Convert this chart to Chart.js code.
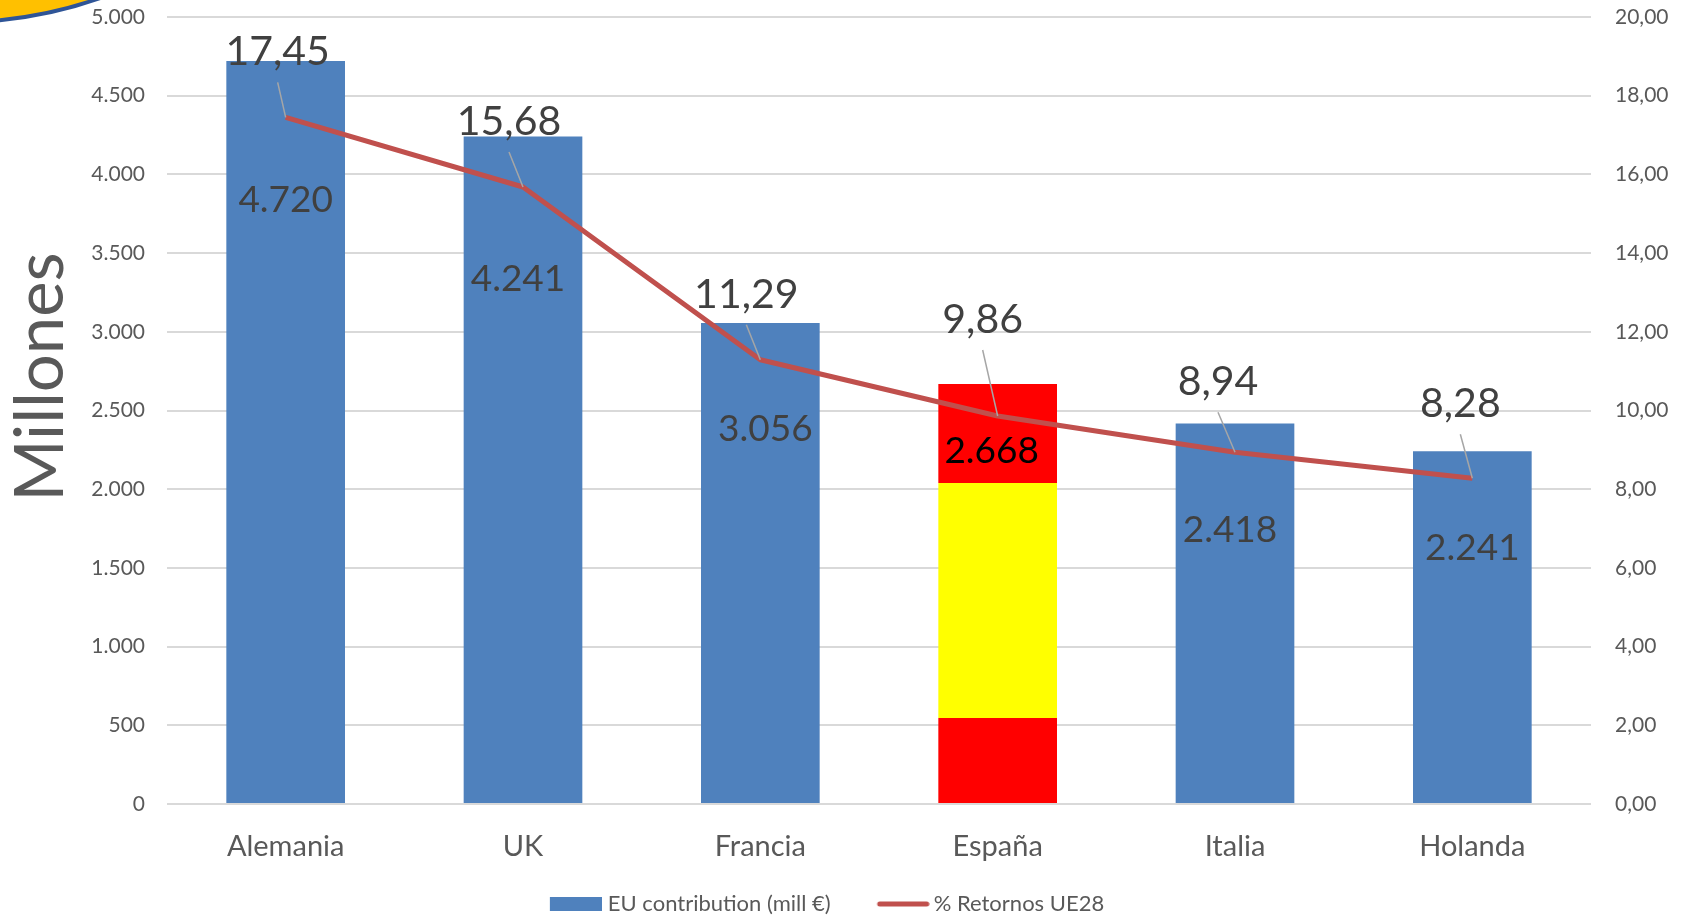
<!DOCTYPE html>
<html lang="es">
<head>
<meta charset="utf-8">
<title>Contribución UE y retornos</title>
<script src="https://cdn.jsdelivr.net/npm/chart.js@4"></script>
<style>
  html, body { margin: 0; padding: 0; background: #fff; }
  canvas { display: block; }
</style>
</head>
<body>
<canvas id="grafico" width="1688" height="918"></canvas>
<script>
// ====================
// Datos
// ====================
const paises = ["Alemania", "UK", "Francia", "España", "Italia", "Holanda"];
const contribucion = [4720, 4241, 3056, 2668, 2418, 2241];      // mill €
const retornos = [17.45, 15.68, 11.29, 9.86, 8.94, 8.28];       // % UE28
const franjasBandera = [546, 2040];                             // rojo | amarillo | rojo (mill €)
const indiceBandera = 3;

const ticksMillones = { min: 0, max: 5000, step: 500 };
const ticksPct = { min: 0, max: 20, step: 2 };

// ====================
// Estilo
// ====================
const AZUL = "#4F81BD";
const ROJO_LINEA = "#C0504D";
const GRIS_TXT = "#595959";
const GRIS_ETQ = "#404040";
const GRID = "#D9D9D9";
const FUENTE = "Lato";

// desplazamiento de las etiquetas respecto a su punto (px)
const despLinea = [[-8, -52], [-14, -52], [-14, -52], [-15, -83], [-17, -57], [-12, -61]];
const despBarra = [[0, 151], [-5, 155], [5, 118], [-6, 79], [-5, 119], [0, 109]];

const fmtMiles = (n) => String(Math.round(n)).replace(/\B(?=(\d{3})+(?!\d))/g, ".");
const fmtPct = (n) => Number(n).toFixed(2).replace(".", ",");

Chart.defaults.font.family = FUENTE;
Chart.defaults.color = GRIS_TXT;

// Muestras de leyenda: el lienzo queda centrado en la caja de la leyenda,
// por eso la marca va pegada a la derecha (junto al texto)
function muestraCaja() {
    const c = document.createElement("canvas");
    c.width = 92; c.height = 14;
    const g = c.getContext("2d");
    g.fillStyle = AZUL;
    g.fillRect(40, 0, 52, 14);
    return c;
}
function muestraLinea() {
    const c = document.createElement("canvas");
    c.width = 96; c.height = 8;
    const g = c.getContext("2d");
    g.strokeStyle = ROJO_LINEA;
    g.lineWidth = 5;
    g.lineCap = "round";
    g.beginPath(); g.moveTo(46, 4); g.lineTo(93, 4); g.stroke();
    return c;
}

// Barra de España pintada como la bandera
function colorBarra(ctx) {
    if (ctx.type !== "data" || ctx.dataIndex !== indiceBandera) return AZUL;
    const chart = ctx.chart;
    const y = chart.scales && chart.scales.y;
    if (!y || !chart.chartArea) return "#FF0000";
    const total = contribucion[indiceBandera];
    const y0 = y.getPixelForValue(0);
    const y1 = y.getPixelForValue(total);
    const a = franjasBandera[0] / total;
    const b = franjasBandera[1] / total;
    const gr = chart.ctx.createLinearGradient(0, y0, 0, y1);
    gr.addColorStop(0, "#FF0000");
    gr.addColorStop(a, "#FF0000");
    gr.addColorStop(a, "#FFFF00");
    gr.addColorStop(b, "#FFFF00");
    gr.addColorStop(b, "#FF0000");
    gr.addColorStop(1, "#FF0000");
    return gr;
}

// los ejes verticales no deben reservar margen extra arriba/abajo
const sinMargen = (ancho) => (s) => {
    s.width = ancho;
    s.paddingTop = 0;
    s.paddingBottom = 0;
};

// ------------- PLUGINS -------------
const etiquetas = {
    id: "etiquetas",
    afterDatasetsDraw(chart) {
        const c = chart.ctx;
        const barras = chart.getDatasetMeta(0).data;
        const puntos = chart.getDatasetMeta(1).data;
        c.save();
        c.textAlign = "center";
        c.textBaseline = "alphabetic";

        // valores de las barras
        c.font = `37px ${FUENTE}`;
        barras.forEach((bar, i) => {
            c.fillStyle = i === indiceBandera ? "#000000" : GRIS_ETQ;
            c.fillText(fmtMiles(contribucion[i]), bar.x + despBarra[i][0], bar.y + despBarra[i][1]);
        });

        // valores de la línea con guía
        c.font = `41px ${FUENTE}`;
        puntos.forEach((p, i) => {
            const lx = p.x + despLinea[i][0];
            const ly = p.y + despLinea[i][1];
            c.strokeStyle = "#A6A6A6";
            c.lineWidth = 1.5;
            c.beginPath();
            c.moveTo(lx, ly + 17);
            c.lineTo(p.x, p.y);
            c.stroke();
            c.fillStyle = GRIS_ETQ;
            c.fillText(fmtPct(retornos[i]), lx, ly);
        });
        c.restore();
    },
    afterDraw(chart) {
        const c = chart.ctx;
        c.save();
        // título vertical del eje izquierdo
        c.translate(63, 377);
        c.rotate(-Math.PI / 2);
        c.font = `67px ${FUENTE}`;
        c.fillStyle = GRIS_TXT;
        c.textAlign = "center";
        c.textBaseline = "alphabetic";
        c.fillText("Millones", 0, 0);
        c.restore();

        // fragmento del logotipo en la esquina
        c.save();
        c.beginPath();
        c.arc(-40, -400, 422, 0, Math.PI * 2);
        c.fillStyle = "#FFC000";
        c.fill();
        c.lineWidth = 4;
        c.strokeStyle = "#2F5597";
        c.stroke();
        c.restore();
    }
};

new Chart(document.getElementById("grafico"), {
    data: {
        labels: paises,
        datasets: [
            {
                type: "bar",
                label: "EU contribution (mill €)",
                data: contribucion,
                backgroundColor: colorBarra,
                borderWidth: 0,
                categoryPercentage: 0.5,
                barPercentage: 1,
                yAxisID: "y",
                order: 2
            },
            {
                type: "line",
                label: "% Retornos UE28",
                data: retornos,
                borderColor: ROJO_LINEA,
                backgroundColor: ROJO_LINEA,
                borderWidth: 5,
                borderJoinStyle: "round",
                pointRadius: 0,
                pointHoverRadius: 0,
                tension: 0,
                yAxisID: "y1",
                order: 1
            }
        ]
    },
    options: {
        responsive: false,
        devicePixelRatio: 1,
        animation: false,
        // izquierda negativa: la leyenda queda centrada un poco a la izquierda, como en el original
        layout: { padding: { left: -69, right: 0, top: 17, bottom: 0 } },
        plugins: {
            tooltip: { enabled: false },
            legend: {
                position: "bottom",
                maxHeight: 35,
                labels: {
                    usePointStyle: true,
                    pointStyleWidth: 82,
                    padding: 10,
                    color: GRIS_TXT,
                    font: { size: 22, family: FUENTE },
                    generateLabels: () => [
                        { text: "EU contribution (mill €)", pointStyle: muestraCaja(), fillStyle: AZUL, strokeStyle: AZUL, lineWidth: 0, hidden: false, datasetIndex: 0, fontColor: GRIS_TXT },
                        { text: "% Retornos UE28", pointStyle: muestraLinea(), fillStyle: ROJO_LINEA, strokeStyle: ROJO_LINEA, lineWidth: 0, hidden: false, datasetIndex: 1, fontColor: GRIS_TXT }
                    ]
                }
            }
        },
        scales: {
            x: {
                grid: { display: false, drawTicks: false },
                border: { display: false },
                ticks: { color: GRIS_TXT, font: { size: 29 }, padding: 25 },
                afterFit: (s) => { s.height = 79; }
            },
            y: {
                position: "left",
                min: ticksMillones.min,
                max: ticksMillones.max,
                grid: { color: GRID, lineWidth: 2, drawTicks: false },
                border: { display: false },
                ticks: {
                    stepSize: ticksMillones.step,
                    color: GRIS_TXT,
                    font: { size: 21 },
                    padding: 22,
                    callback: (v) => fmtMiles(v)
                },
                afterFit: sinMargen(236)
            },
            y1: {
                position: "right",
                min: ticksPct.min,
                max: ticksPct.max,
                grid: { drawOnChartArea: false, drawTicks: false },
                border: { display: false },
                ticks: {
                    stepSize: ticksPct.step,
                    color: GRIS_TXT,
                    font: { size: 21 },
                    padding: 24,
                    callback: (v) => fmtPct(v)
                },
                afterFit: sinMargen(97)
            }
        }
    },
    plugins: [etiquetas]
});
</script>
</body>
</html>
